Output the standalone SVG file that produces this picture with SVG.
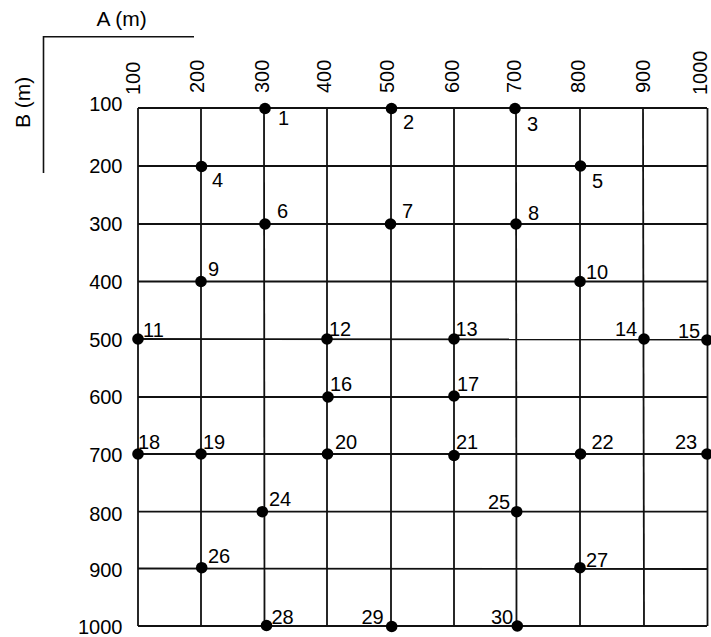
<svg xmlns="http://www.w3.org/2000/svg" width="711" height="637" viewBox="0 0 711 637">
<style>
text{font-family:"Liberation Sans",Arial,Helvetica,sans-serif;font-size:20px;fill:#000}
.lab{font-size:21px}
.g line{stroke:#111;stroke-width:1.8}
.ax{stroke:#111;stroke-width:1.6;fill:none}
.row{text-anchor:end}
.d{fill:#000}
</style>
<rect width="711" height="637" fill="#fff"/>
<g id="axes">
<path class="ax" d="M194 36.7H43.5V173"/>
<text class="lab" x="96.5" y="25.5">A (m)</text>
<text class="lab" transform="translate(29.5,128) rotate(-90)">B (m)</text>
</g>
<g id="column-labels">
<text transform="translate(140,95) rotate(-90)">100</text>
<text transform="translate(204,93) rotate(-90)">200</text>
<text transform="translate(269,93) rotate(-90)">300</text>
<text transform="translate(331,93) rotate(-90)">400</text>
<text transform="translate(394,93) rotate(-90)">500</text>
<text transform="translate(459,93) rotate(-90)">600</text>
<text transform="translate(521,93) rotate(-90)">700</text>
<text transform="translate(585,93) rotate(-90)">800</text>
<text transform="translate(650,93) rotate(-90)">900</text>
<text transform="translate(706.5,95) rotate(-90)">1000</text>
</g>
<g id="row-labels" class="row">
<text x="122.5" y="111">100</text>
<text x="122.5" y="173">200</text>
<text x="122.5" y="231">300</text>
<text x="122.5" y="289">400</text>
<text x="122.5" y="347">500</text>
<text x="122.5" y="404">600</text>
<text x="122.5" y="462">700</text>
<text x="122.5" y="521">800</text>
<text x="122.5" y="577">900</text>
<text x="122.5" y="634">1000</text>
</g>
<g id="connectors" class="g">
<line x1="138" y1="108" x2="707" y2="108"/>
<line x1="138" y1="166" x2="707" y2="166"/>
<line x1="138" y1="224" x2="707" y2="224"/>
<line x1="138" y1="281.5" x2="707" y2="281.5"/>
<line x1="138" y1="339" x2="707" y2="339.5"/>
<line x1="138" y1="397" x2="707" y2="397"/>
<line x1="138" y1="454" x2="707" y2="454"/>
<line x1="138" y1="511.7" x2="707" y2="511.7"/>
<line x1="138" y1="568.5" x2="707" y2="569"/>
<line x1="138" y1="626" x2="707" y2="626"/>
<line x1="138" y1="108" x2="138" y2="626"/>
<line x1="201" y1="108" x2="201" y2="626"/>
<line x1="264" y1="108" x2="264.5" y2="626"/>
<line x1="327" y1="108" x2="327" y2="626"/>
<line x1="391" y1="108" x2="391" y2="626"/>
<line x1="454" y1="108" x2="454" y2="626"/>
<line x1="516" y1="108" x2="516.5" y2="626"/>
<line x1="580" y1="108" x2="580" y2="626"/>
<line x1="643" y1="108" x2="644" y2="626"/>
<line x1="707.5" y1="108" x2="707.5" y2="626"/>
</g>
<g id="n1"><circle class="d" cx="265" cy="108.5" r="5.8"/><text x="278" y="125">1</text></g>
<g id="n2"><circle class="d" cx="391.5" cy="108.5" r="5.8"/><text x="403" y="129">2</text></g>
<g id="n3"><circle class="d" cx="515" cy="108.5" r="5.8"/><text x="527" y="131">3</text></g>
<g id="n4"><circle class="d" cx="201.5" cy="166.5" r="5.8"/><text x="212" y="187">4</text></g>
<g id="n5"><circle class="d" cx="580.5" cy="166" r="5.8"/><text x="592" y="188">5</text></g>
<g id="n6"><circle class="d" cx="265" cy="224" r="5.8"/><text x="277" y="218">6</text></g>
<g id="n7"><circle class="d" cx="390.5" cy="224" r="5.8"/><text x="402" y="218">7</text></g>
<g id="n8"><circle class="d" cx="516" cy="224" r="5.8"/><text x="528" y="220">8</text></g>
<g id="n9"><circle class="d" cx="201" cy="281.5" r="5.8"/><text x="208" y="276">9</text></g>
<g id="n10"><circle class="d" cx="580" cy="281.5" r="5.8"/><text x="586" y="279">10</text></g>
<g id="n11"><circle class="d" cx="138" cy="339" r="5.8"/><text x="143" y="337">11</text></g>
<g id="n12"><circle class="d" cx="327" cy="339" r="5.8"/><text x="329" y="336">12</text></g>
<g id="n13"><circle class="d" cx="454" cy="339" r="5.8"/><text x="455.5" y="336">13</text></g>
<g id="n14"><circle class="d" cx="644" cy="339" r="5.8"/><text x="615" y="336">14</text></g>
<g id="n15"><circle class="d" cx="707" cy="340" r="5.8"/><text x="678" y="338">15</text></g>
<g id="n16"><circle class="d" cx="328" cy="397" r="5.8"/><text x="330" y="391">16</text></g>
<g id="n17"><circle class="d" cx="454" cy="396" r="5.8"/><text x="457" y="390.5">17</text></g>
<g id="n18"><circle class="d" cx="138" cy="454" r="5.8"/><text x="138" y="449">18</text></g>
<g id="n19"><circle class="d" cx="201" cy="454" r="5.8"/><text x="203" y="449">19</text></g>
<g id="n20"><circle class="d" cx="327.5" cy="454" r="5.8"/><text x="335" y="449">20</text></g>
<g id="n21"><circle class="d" cx="454" cy="455.5" r="5.8"/><text x="456" y="449">21</text></g>
<g id="n22"><circle class="d" cx="580.5" cy="454" r="5.8"/><text x="591.5" y="449">22</text></g>
<g id="n23"><circle class="d" cx="707" cy="454" r="5.8"/><text x="675" y="449">23</text></g>
<g id="n24"><circle class="d" cx="262.3" cy="511.7" r="5.8"/><text x="269" y="506">24</text></g>
<g id="n25"><circle class="d" cx="516.7" cy="511.7" r="5.8"/><text x="488" y="509">25</text></g>
<g id="n26"><circle class="d" cx="201.7" cy="567.7" r="5.8"/><text x="208" y="563">26</text></g>
<g id="n27"><circle class="d" cx="580" cy="567.7" r="5.8"/><text x="586" y="567">27</text></g>
<g id="n28"><circle class="d" cx="266.5" cy="625.5" r="5.8"/><text x="271.5" y="624">28</text></g>
<g id="n29"><circle class="d" cx="391.7" cy="626.5" r="5.8"/><text x="361.5" y="624">29</text></g>
<g id="n30"><circle class="d" cx="517.3" cy="626" r="5.8"/><text x="491" y="624">30</text></g>
</svg>
